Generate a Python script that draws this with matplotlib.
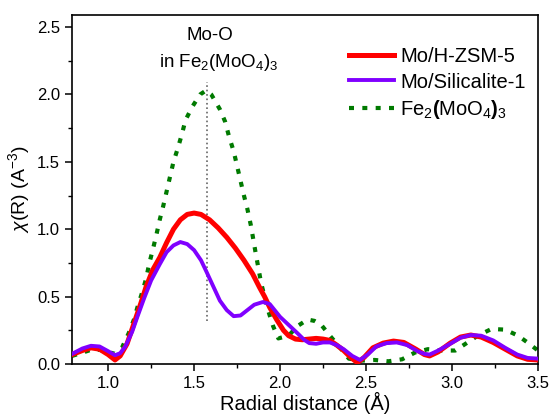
import numpy as np
import matplotlib
matplotlib.use('Agg')
import matplotlib.pyplot as plt
from matplotlib.ticker import MultipleLocator

plt.rcParams['font.family'] = ['Liberation Sans', 'DejaVu Sans']
plt.rcParams['mathtext.fontset'] = 'custom'
plt.rcParams['mathtext.rm'] = 'Liberation Sans'
plt.rcParams['mathtext.it'] = 'Liberation Sans:italic'
plt.rcParams['mathtext.bf'] = 'Liberation Sans:bold'

# Mo/H-ZSM-5
r_zsm = [0.79, 0.85, 0.90, 0.95, 1.00, 1.04, 1.07, 1.11, 1.15, 1.19, 1.22, 1.26,
         1.30, 1.34, 1.38, 1.42, 1.46, 1.50, 1.54, 1.59, 1.64, 1.69, 1.74, 1.79,
         1.84, 1.88, 1.91, 1.94, 1.98, 2.02, 2.05, 2.09, 2.13, 2.17, 2.21, 2.25,
         2.29, 2.33, 2.37, 2.41, 2.45, 2.49, 2.54, 2.60, 2.66, 2.72, 2.79, 2.84,
         2.87, 2.92, 2.99, 3.05, 3.11, 3.17, 3.24, 3.31, 3.38, 3.44, 3.50]
chi_zsm = [0.07, 0.10, 0.12, 0.11, 0.07, 0.03, 0.06, 0.15, 0.30, 0.45, 0.57, 0.70,
           0.79, 0.90, 1.00, 1.07, 1.11, 1.12, 1.11, 1.07, 1.01, 0.94, 0.86, 0.77,
           0.67, 0.57, 0.50, 0.42, 0.33, 0.25, 0.21, 0.185, 0.18, 0.185, 0.19, 0.185,
           0.175, 0.14, 0.10, 0.05, 0.01, 0.05, 0.12, 0.155, 0.17, 0.16, 0.11, 0.07,
           0.06, 0.09, 0.155, 0.20, 0.215, 0.20, 0.16, 0.11, 0.06, 0.035, 0.03]

# Mo/Silicalite-1
r_sil = [0.79, 0.85, 0.90, 0.95, 1.00, 1.04, 1.07, 1.10, 1.14, 1.17, 1.21, 1.25,
         1.30, 1.34, 1.38, 1.42, 1.46, 1.50, 1.54, 1.57, 1.61, 1.65, 1.69, 1.73,
         1.77, 1.81, 1.85, 1.90, 1.94, 2.00, 2.05, 2.10, 2.14, 2.17, 2.21, 2.25,
         2.29, 2.33, 2.37, 2.42, 2.465, 2.51, 2.56, 2.62, 2.68, 2.74, 2.80, 2.84,
         2.87, 2.92, 2.99, 3.05, 3.11, 3.17, 3.24, 3.31, 3.38, 3.44, 3.50]
chi_sil = [0.075, 0.115, 0.135, 0.13, 0.095, 0.065, 0.08, 0.13, 0.24, 0.35, 0.49, 0.62,
           0.74, 0.83, 0.88, 0.905, 0.89, 0.845, 0.77, 0.69, 0.58, 0.47, 0.40, 0.355,
           0.36, 0.40, 0.44, 0.46, 0.445, 0.35, 0.29, 0.23, 0.18, 0.155, 0.15, 0.16,
           0.16, 0.14, 0.11, 0.06, 0.03, 0.07, 0.13, 0.155, 0.16, 0.14, 0.095, 0.075,
           0.07, 0.10, 0.15, 0.195, 0.215, 0.21, 0.175, 0.12, 0.07, 0.045, 0.04]

# Fe2(MoO4)3 reference
r_fe = [0.79, 0.84, 0.90, 0.95, 1.00, 1.04, 1.08, 1.12, 1.15, 1.17, 1.20, 1.22,
        1.24, 1.26, 1.28, 1.30, 1.32, 1.36, 1.38, 1.405, 1.43, 1.45, 1.49, 1.535,
        1.57, 1.60, 1.65, 1.68, 1.705, 1.73, 1.75, 1.79, 1.81, 1.83, 1.86, 1.89,
        1.93, 1.96, 1.99, 2.05, 2.10, 2.16, 2.20, 2.24, 2.29, 2.35, 2.40, 2.47,
        2.55, 2.63, 2.71, 2.785, 2.86, 2.94, 3.02, 3.085, 3.15, 3.23, 3.31, 3.385,
        3.45, 3.50]
chi_fe = [0.06, 0.08, 0.105, 0.105, 0.09, 0.075, 0.12, 0.23, 0.33, 0.42, 0.54, 0.63,
          0.75, 0.85, 0.955, 1.07, 1.17, 1.39, 1.50, 1.60, 1.71, 1.81, 1.91, 2.00,
          2.03, 2.00, 1.89, 1.80, 1.68, 1.58, 1.47, 1.25, 1.15, 1.03, 0.81, 0.60,
          0.40, 0.28, 0.19, 0.21, 0.28, 0.33, 0.32, 0.29, 0.21, 0.12, 0.04, 0.025,
          0.03, 0.02, 0.035, 0.085, 0.11, 0.10, 0.10, 0.155, 0.21, 0.26, 0.255, 0.21,
          0.15, 0.10]

mo_o_r = 1.576  # Mo-O distance marker
labels = ['Mo/H-ZSM-5', 'Mo/Silicalite-1',
          r'Fe$_2$$\mathbf{(}$MoO$_4$$\mathbf{)}$$_3$']

fig = plt.figure(figsize=(5.5, 4.16), dpi=100)
ax = fig.add_axes([0.131, 0.125, 0.847, 0.839])

ax.plot(r_zsm, chi_zsm, color='#ff0000', lw=3.6, label=labels[0], zorder=3)
ax.plot(r_sil, chi_sil, color='#8000ff', lw=2.8, label=labels[1], zorder=4)
ax.plot(r_fe, chi_fe, color='#007a00', lw=3.0, ls=(0, (1.2, 2.0)),
        label=labels[2], zorder=2)
ax.plot([mo_o_r, mo_o_r], [0.32, 2.09], color='#666666', lw=1.2, ls=':', zorder=1)

ax.text(1.59, 2.44, 'Mo-O', ha='center', va='center', fontsize=13.5)
ax.text(1.645, 2.235, r'in Fe$_2$(MoO$_4$)$_3$', ha='center', va='center',
        fontsize=13.5)

ax.set_xlim(0.79, 3.5)
ax.set_ylim(0, 2.59)
ax.xaxis.set_major_locator(MultipleLocator(0.5))
ax.xaxis.set_minor_locator(MultipleLocator(0.25))
ax.yaxis.set_major_locator(MultipleLocator(0.5))
ax.yaxis.set_minor_locator(MultipleLocator(0.25))
ax.tick_params(which='major', direction='out', length=5, width=1.1,
               labelsize=12, top=False, right=False)
ax.tick_params(which='minor', direction='out', length=3, width=1.0)
for s in ax.spines.values():
    s.set_linewidth(1.2)

ax.set_xlabel('Radial distance (Å)', fontsize=14.5, labelpad=1)
ax.set_ylabel(r'$\chi$(R) (A$^{-3}$)', fontsize=14, labelpad=4)

ax.legend(loc='upper left', bbox_to_anchor=(0.594, 0.908), frameon=False,
          fontsize=14.5, handlelength=2.25, handletextpad=0.3,
          labelspacing=0.32, borderaxespad=0, borderpad=0)

fig.savefig('out.png', dpi=100)
